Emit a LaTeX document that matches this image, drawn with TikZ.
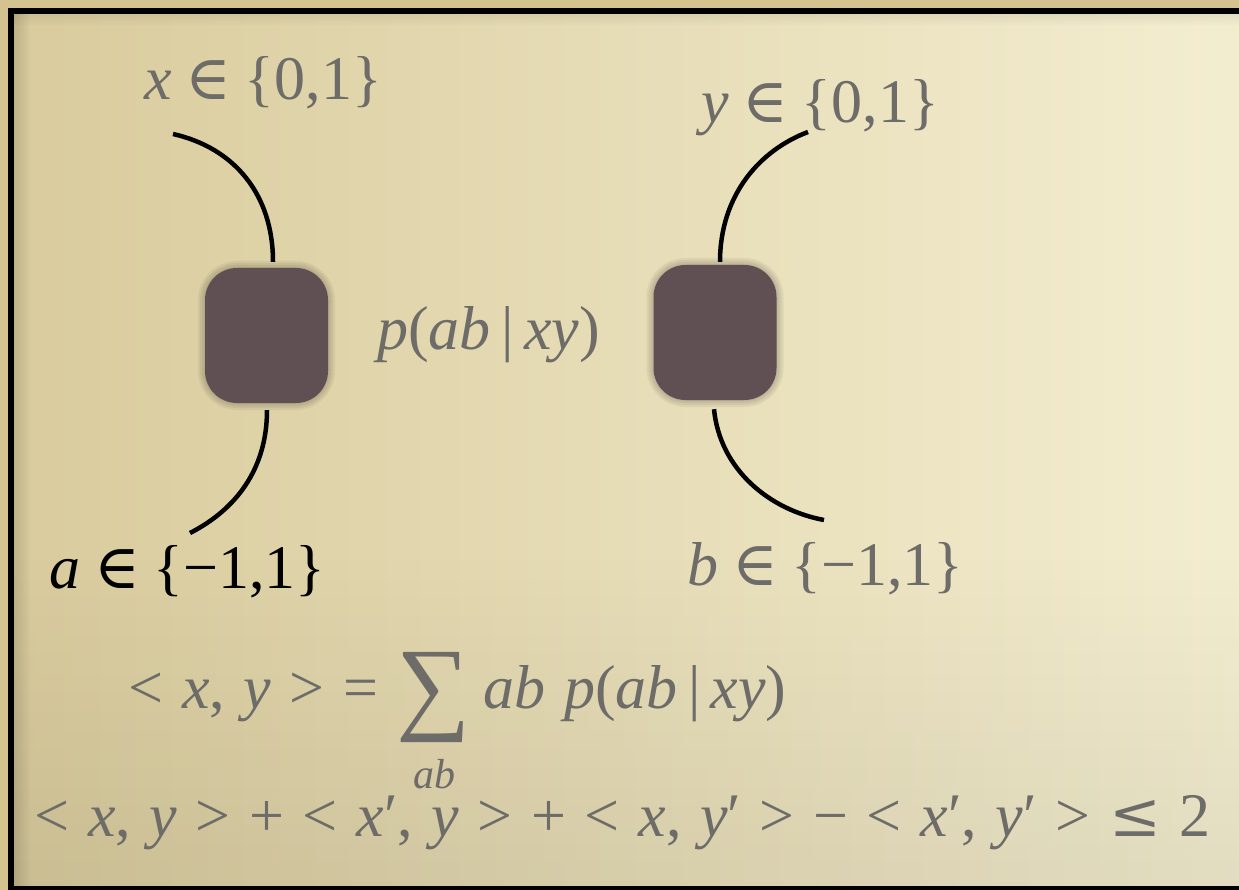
\documentclass[tikz,border=0pt]{standalone}
\usepackage{fontspec}
\setmainfont{Liberation Serif}
\newfontfamily\symf{DejaVu Serif}
\usetikzlibrary{fadings}
\newcommand{\vi}[1]{\textit{#1}}
\newcommand{\inn}{\hspace{0.22em}{\symf ∈}\hspace{0.22em}}
\newcommand{\gp}{\hspace{0.3em}}
\definecolor{parchL}{RGB}{217,203,157}
\definecolor{parchR}{RGB}{244,238,209}
\definecolor{parchO}{RGB}{212,195,142}
\definecolor{txtgray}{RGB}{110,108,104}
\definecolor{boxcol}{RGB}{96,80,84}
\begin{document}
\begin{tikzpicture}[x=1pt,y=-1pt,
  lbl/.style={text=txtgray, inner sep=0pt, font=\fontsize{62}{70}\selectfont, anchor=base},
  wire/.style={line width=4.5pt, black},
  blk/.style={rounded corners=32pt, fill=boxcol, minimum width=123pt, minimum height=135pt, inner sep=0pt},
  halo/.style={rounded corners=#1*1pt+32pt, fill=black, opacity=0.05, minimum width=#1*2pt+123pt, minimum height=#1*2pt+135pt, inner sep=0pt}]
\useasboundingbox (0,0) rectangle (1239,890);
\clip (0,0) rectangle (1239,890);
% background
\fill[parchO] (0,0) rectangle (1239,890);
\shade[left color=parchL, right color=parchR] (11,11) rectangle (1260,890);
\fill[black, opacity=0.07, path fading=north] (11,550) rectangle (1260,890);
\fill[black, opacity=0.15, path fading=east] (11,11) rectangle (30,890);
\fill[black, opacity=0.08, path fading=south] (11,11) rectangle (1260,26);
\draw[line width=5.5pt, black] (11,11) rectangle (1250,889);
% wires
\coordinate (xe) at (173,134);
\coordinate (ae) at (190,533);
\coordinate (ye) at (808,132);
\coordinate (be) at (824,520);
% boxes with soft halo
\foreach \k in {7,5,3,1} {
  \node[halo=\k] at (266.5,335.5) {};
  \node[halo=\k] at (715,332.5) {};
}
\node[blk] (A) at (266.5,335.5) {};
\node[blk] (B) at (715,332.5) {};
\draw[wire] (xe) .. controls (235,148) and (273,195) .. ([xshift=6.5pt,yshift=6pt]A.north);
\draw[wire] ([xshift=0.5pt,yshift=-7pt]A.south) .. controls (267,470) and (235,510) .. (ae);
\draw[wire] ([xshift=5pt,yshift=3pt]B.north) .. controls (720,195) and (760,150) .. (ye);
\draw[wire] ([xshift=-1pt,yshift=-9pt]B.south) .. controls (720,470) and (770,510) .. (be);
% labels
\node[lbl] (xl) at (263,100) {\vi{x}\inn\{0,1\}};
\node[lbl] (yl) at (820,123) {\vi{y}\inn\{0,1\}};
\node[lbl, text=black] (al) at (187.5,588) {\vi{a}\inn\{−1,1\}};
\node[lbl] (bl) at (825.5,585) {\vi{b}\inn\{−1,1\}};
\node[lbl] (pl) at (488.5,350) {\vi{p}(\vi{ab}\,|\,\vi{xy})};
\node[lbl] (sl) at (457.5,708) {<\gp\vi{x},\gp\vi{y}\gp>\gp=\gp\begin{tabular}[t]{@{}c@{}}\raisebox{-12pt}{\fontsize{104}{104}\selectfont ∑}\\[-3pt]{\fontsize{42}{42}\selectfont\vi{ab}}\end{tabular}\hspace{0.2em}\vi{ab}\gp\vi{p}(\vi{ab}\,|\,\vi{xy})};
\node[lbl] (cl) at (622.5,836) {<\gp\vi{x},\gp\vi{y}\gp>\gp+\gp<\gp\vi{x}′,\gp\vi{y}\gp>\gp+\gp<\gp\vi{x},\gp\vi{y}′\gp>\gp−\gp<\gp\vi{x}′,\gp\vi{y}′\gp>\gp{\symf ≤}\gp2};
\end{tikzpicture}
\end{document}
